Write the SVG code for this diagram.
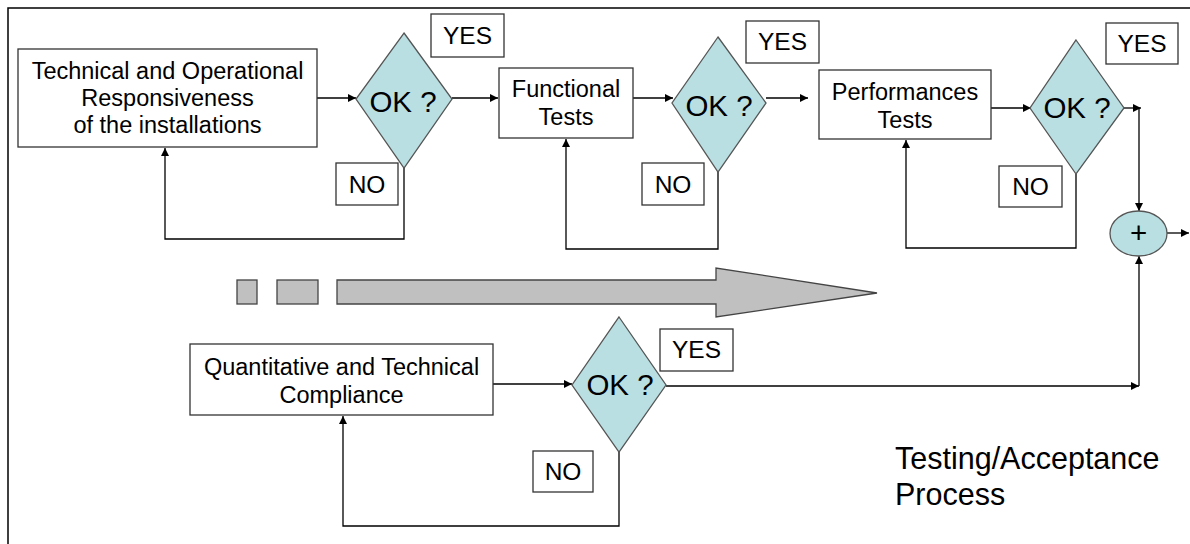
<svg xmlns="http://www.w3.org/2000/svg" width="1190" height="544" viewBox="0 0 1190 544">
<defs>
<marker id="ah" viewBox="0 0 10 10" refX="10" refY="5" markerWidth="9" markerHeight="8" markerUnits="userSpaceOnUse" orient="auto">
<path d="M0,0 L10,5 L0,10 z" fill="#000"/>
</marker>
<style>
.box{fill:#fff;stroke:#333;stroke-width:1.3}
.lbl{fill:#fff;stroke:#333;stroke-width:1.3}
.dia{fill:#B9DFE2;stroke:#555;stroke-width:1.3}
.t{font-family:"Liberation Sans",Arial,sans-serif;font-size:23.5px;fill:#000;text-anchor:middle}
.ok{font-family:"Liberation Sans",Arial,sans-serif;font-size:29.5px;fill:#000;text-anchor:middle}
.yn{font-family:"Liberation Sans",Arial,sans-serif;font-size:24.5px;fill:#000;text-anchor:middle}
.c{fill:none;stroke:#000;stroke-width:1.3}
.ca{fill:none;stroke:#000;stroke-width:1.3;marker-end:url(#ah)}
.big{fill:#C0C0C0;stroke:#444;stroke-width:1.3}
</style>
</defs>
<rect width="1190" height="544" fill="#fff"/>
<path d="M8,544 V8 H1190" fill="none" stroke="#000" stroke-width="1.5"/>

<g id="connectors">
<line class="ca" x1="317" y1="98" x2="356" y2="98"/>
<line class="ca" x1="452" y1="98" x2="498" y2="98"/>
<path class="ca" d="M404,168 V239 H165 V148"/>
<line class="ca" x1="633" y1="98" x2="673" y2="98"/>
<line class="ca" x1="766" y1="98" x2="808" y2="98"/>
<path class="ca" d="M718,172 V249 H566 V139"/>
<line class="ca" x1="991" y1="108" x2="1031" y2="108"/>
<line class="ca" x1="1124" y1="108" x2="1141" y2="108"/>
<line class="ca" x1="1139" y1="108" x2="1139" y2="211"/>
<path class="ca" d="M1076,174 V248 H906 V140"/>
<line class="ca" x1="1167" y1="233" x2="1189" y2="233"/>
<line class="ca" x1="493" y1="384" x2="572" y2="384"/>
<line class="ca" x1="666" y1="386" x2="1139" y2="386"/>
<line class="ca" x1="1139" y1="386" x2="1139" y2="256"/>
<path class="ca" d="M619,452 V526 H343 V416"/>
</g>

<g id="progress">
<rect class="big" x="237" y="280" width="20" height="24"/>
<rect class="big" x="277" y="280" width="41" height="24"/>
<path class="big" d="M337,280 H716 V268 L877,293 L716,317 V304 H337 z"/>
</g>

<g id="box1">
<rect class="box" x="18" y="49" width="299" height="98"/>
<text class="t" x="167.5" y="79">Technical and Operational</text>
<text class="t" x="167.5" y="106">Responsiveness</text>
<text class="t" x="167.5" y="133">of the installations</text>
</g>
<g id="dec1">
<path class="dia" d="M404,33 L452,99 L404,168 L356,99 z"/>
<text class="ok" x="403" y="112">OK ?</text>
</g>
<g id="yes1"><rect class="lbl" x="431" y="14" width="73" height="43"/><text class="yn" x="467.5" y="44">YES</text></g>
<g id="no1"><rect class="lbl" x="336" y="163" width="62" height="42"/><text class="yn" x="367" y="193">NO</text></g>

<g id="box2">
<rect class="box" x="499" y="68" width="134" height="70"/>
<text class="t" x="566" y="97">Functional</text>
<text class="t" x="566" y="125">Tests</text>
</g>
<g id="dec2">
<path class="dia" d="M718,37 L766,103 L718,172 L672,103 z"/>
<text class="ok" x="719" y="116">OK ?</text>
</g>
<g id="yes2"><rect class="lbl" x="746" y="21" width="73" height="42"/><text class="yn" x="782.5" y="50">YES</text></g>
<g id="no2"><rect class="lbl" x="642" y="163" width="62" height="42"/><text class="yn" x="673" y="193">NO</text></g>

<g id="box3">
<rect class="box" x="819" y="70" width="172" height="69"/>
<text class="t" x="905" y="100">Performances</text>
<text class="t" x="905" y="128">Tests</text>
</g>
<g id="dec3">
<path class="dia" d="M1076,40 L1124,108 L1076,174 L1030,108 z"/>
<text class="ok" x="1077" y="118">OK ?</text>
</g>
<g id="yes3"><rect class="lbl" x="1106" y="23" width="72" height="41"/><text class="yn" x="1142" y="52">YES</text></g>
<g id="no3"><rect class="lbl" x="999" y="166" width="63" height="41"/><text class="yn" x="1030.5" y="195">NO</text></g>

<g id="sum">
<ellipse class="dia" cx="1138.5" cy="233.5" rx="28.5" ry="22.5"/>
<text class="ok" x="1138.5" y="243">+</text>
</g>

<g id="box4">
<rect class="box" x="190" y="344" width="303" height="71"/>
<text class="t" x="341.5" y="375">Quantitative and Technical</text>
<text class="t" x="341.5" y="403">Compliance</text>
</g>
<g id="dec4">
<path class="dia" d="M619,317 L666,385 L619,452 L572,385 z"/>
<text class="ok" x="620" y="395">OK ?</text>
</g>
<g id="yes4"><rect class="lbl" x="660" y="329" width="73" height="42"/><text class="yn" x="696.5" y="358">YES</text></g>
<g id="no4"><rect class="lbl" x="533" y="451" width="60" height="41"/><text class="yn" x="563" y="480">NO</text></g>

<g id="title">
<text font-family="'Liberation Sans',Arial,sans-serif" font-size="30.5" x="895" y="469" fill="#000">Testing/Acceptance</text>
<text font-family="'Liberation Sans',Arial,sans-serif" font-size="30.5" x="895" y="505" fill="#000">Process</text>
</g>
</svg>
